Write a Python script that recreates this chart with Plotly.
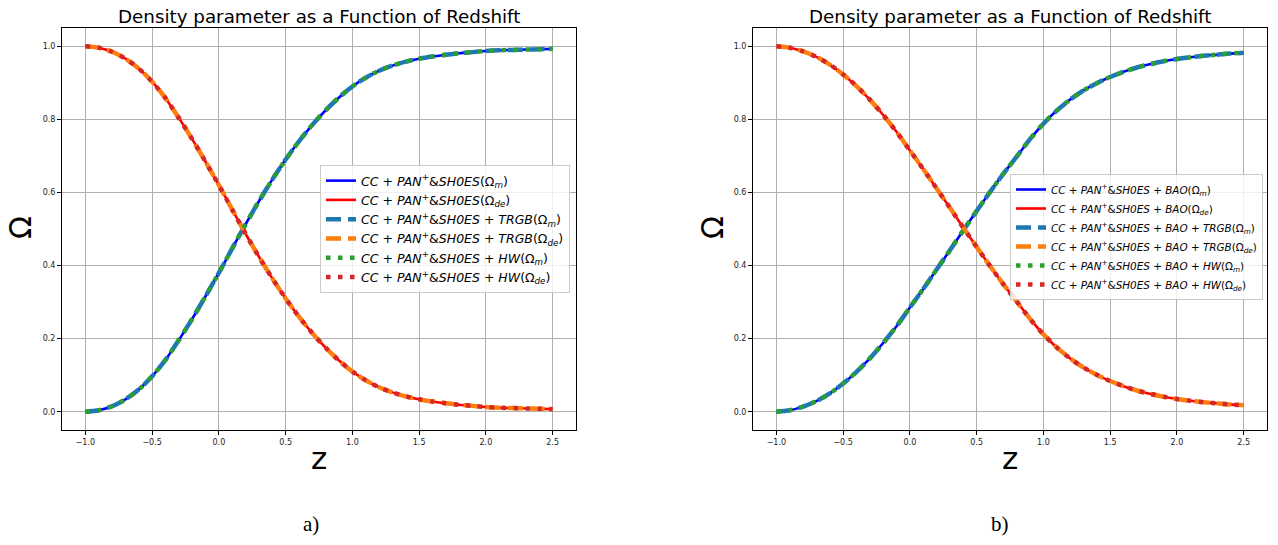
import plotly.graph_objects as go

# ---------------- data ----------------
z = [-1.0, -0.9, -0.8, -0.7, -0.6, -0.5, -0.4, -0.3, -0.2, -0.1,
     0.0, 0.1, 0.2, 0.3, 0.4, 0.5, 0.6, 0.7, 0.8, 0.9,
     1.0, 1.1, 1.2, 1.3, 1.4, 1.5, 1.6, 1.7, 1.8, 1.9,
     2.0, 2.1, 2.2, 2.3, 2.4, 2.5]

# panel a)
omega_m_a = [0.000, 0.004, 0.015, 0.034, 0.061, 0.097, 0.142, 0.196, 0.254, 0.316,
             0.380, 0.447, 0.513, 0.576, 0.635, 0.690, 0.740, 0.785, 0.825, 0.860,
             0.890, 0.914, 0.933, 0.947, 0.958, 0.966, 0.972, 0.977, 0.981, 0.984,
             0.987, 0.989, 0.990, 0.991, 0.992, 0.993]
omega_de_a = [1.000, 0.996, 0.985, 0.966, 0.939, 0.903, 0.858, 0.804, 0.746, 0.684,
              0.620, 0.553, 0.487, 0.424, 0.365, 0.310, 0.260, 0.215, 0.175, 0.140,
              0.110, 0.086, 0.067, 0.053, 0.042, 0.034, 0.028, 0.023, 0.019, 0.016,
              0.013, 0.011, 0.010, 0.009, 0.008, 0.007]

# panel b)
omega_m_b = [0.000, 0.004, 0.014, 0.029, 0.050, 0.077, 0.109, 0.146, 0.188, 0.234,
             0.285, 0.336, 0.389, 0.442, 0.496, 0.549, 0.601, 0.651, 0.698, 0.746,
             0.788, 0.824, 0.854, 0.879, 0.899, 0.916, 0.930, 0.942, 0.951, 0.959,
             0.965, 0.970, 0.974, 0.977, 0.980, 0.982]
omega_de_b = [1.000, 0.996, 0.986, 0.971, 0.950, 0.923, 0.891, 0.854, 0.812, 0.766,
              0.715, 0.664, 0.611, 0.558, 0.504, 0.451, 0.399, 0.349, 0.302, 0.254,
              0.212, 0.176, 0.146, 0.121, 0.101, 0.084, 0.070, 0.058, 0.049, 0.041,
              0.035, 0.030, 0.026, 0.023, 0.020, 0.018]

x_tickvals = [-1.0, -0.5, 0.0, 0.5, 1.0, 1.5, 2.0, 2.5]
x_ticktext = ["\u22121.0", "\u22120.5", "0.0", "0.5", "1.0", "1.5", "2.0", "2.5"]
y_tickvals = [0.0, 0.2, 0.4, 0.6, 0.8, 1.0]
y_ticktext = ["0.0", "0.2", "0.4", "0.6", "0.8", "1.0"]

base = "<i>CC</i> + <i>PAN</i><sup>+</sup>&amp;<i>SH0ES</i>"
labels_a = [
    base + "(\u03a9<sub><i>m</i></sub>)",
    base + "(\u03a9<sub><i>de</i></sub>)",
    base + " + <i>TRGB</i>(\u03a9<sub><i>m</i></sub>)",
    base + " + <i>TRGB</i>(\u03a9<sub><i>de</i></sub>)",
    base + " + <i>HW</i>(\u03a9<sub><i>m</i></sub>)",
    base + " + <i>HW</i>(\u03a9<sub><i>de</i></sub>)",
]
base_b = base + " + <i>BAO</i>"
labels_b = [
    base_b + "(\u03a9<sub><i>m</i></sub>)",
    base_b + "(\u03a9<sub><i>de</i></sub>)",
    base_b + " + <i>TRGB</i>(\u03a9<sub><i>m</i></sub>)",
    base_b + " + <i>TRGB</i>(\u03a9<sub><i>de</i></sub>)",
    base_b + " + <i>HW</i>(\u03a9<sub><i>m</i></sub>)",
    base_b + " + <i>HW</i>(\u03a9<sub><i>de</i></sub>)",
]

styles = [
    dict(color="#0000ff", width=2.6, dash="solid"),
    dict(color="#ff0000", width=2.6, dash="solid"),
    dict(color="#1f77b4", width=4.5, dash="15px,7px"),
    dict(color="#ff7f0e", width=4.5, dash="15px,7px"),
    dict(color="#2ca02c", width=4.5, dash="4.5px,7.5px"),
    dict(color="#d62728", width=4.5, dash="4.5px,7.5px"),
]

fig = go.Figure()

def add_panel(om, ode, labels, xa, ya, legend):
    series = [om, ode, om, ode, om, ode]
    for y, lab, st in zip(series, labels, styles):
        fig.add_trace(go.Scatter(
            x=z, y=y, mode="lines", name=lab,
            line=dict(color=st["color"], width=st["width"], dash=st["dash"], shape="spline",
                      smoothing=0.8),
            xaxis=xa, yaxis=ya, legend=legend, hoverinfo="skip"))

add_panel(omega_m_a, omega_de_a, labels_a, "x", "y", "legend")
add_panel(omega_m_b, omega_de_b, labels_b, "x2", "y2", "legend2")

W, H = 1278, 545
ydom = [1 - 430 / H, 1 - 28 / H]
dom_a = [62 / W, 576 / W]
dom_b = [753 / W, 1267 / W]

axis_common = dict(
    showgrid=True, gridcolor="#b0b0b0", gridwidth=1,
    showline=True, linecolor="black", linewidth=1, mirror=True,
    ticks="outside", ticklen=4, tickcolor="black", tickwidth=1,
    tickfont=dict(family="DejaVu Sans", size=8, color="#222222"),
    zeroline=False,
)

fig.update_layout(
    width=W, height=H,
    margin=dict(l=0, r=0, t=0, b=0),
    paper_bgcolor="white", plot_bgcolor="white",
    font=dict(family="DejaVu Sans", color="black"),
    xaxis=dict(domain=dom_a, anchor="y", range=[-1.175, 2.675],
               tickvals=x_tickvals, ticktext=x_ticktext, **axis_common),
    yaxis=dict(domain=ydom, anchor="x", range=[-0.05, 1.05],
               tickvals=y_tickvals, ticktext=y_ticktext, **axis_common),
    xaxis2=dict(domain=dom_b, anchor="y2", range=[-1.175, 2.675],
                tickvals=x_tickvals, ticktext=x_ticktext, **axis_common),
    yaxis2=dict(domain=ydom, anchor="x2", range=[-0.05, 1.05],
                tickvals=y_tickvals, ticktext=y_ticktext, **axis_common),
    legend=dict(x=570 / W, y=1 - 165 / H, xanchor="right", yanchor="top",
                bgcolor="rgba(255,255,255,0.8)", bordercolor="#cccccc", borderwidth=1,
                font=dict(family="DejaVu Sans", size=12.5, color="black"),
                itemwidth=30),
    legend2=dict(x=1263 / W, y=1 - 174 / H, xanchor="right", yanchor="top",
                 bgcolor="rgba(255,255,255,0.8)", bordercolor="#cccccc", borderwidth=1,
                 font=dict(family="DejaVu Sans", size=10.4, color="black"),
                 itemwidth=30),
    showlegend=True,
)

title = "Density parameter as a Function of Redshift"
ann = []
for cx in [(62 + 576) / 2 / W, (753 + 1267) / 2 / W]:
    ann.append(dict(text=title, x=cx, y=1 - 17 / H, xref="paper", yref="paper",
                    xanchor="center", yanchor="middle", showarrow=False,
                    font=dict(family="DejaVu Sans", size=18.3, color="black")))
    ann.append(dict(text="z", x=cx, y=1 - 458 / H, xref="paper", yref="paper",
                    xanchor="center", yanchor="middle", showarrow=False,
                    font=dict(family="DejaVu Sans", size=31, color="black")))
ann.append(dict(text="a)", x=311 / W, y=1 - 524 / H, xref="paper", yref="paper",
                xanchor="center", yanchor="middle", showarrow=False,
                font=dict(family="Liberation Serif", size=21, color="black")))
ann.append(dict(text="b)", x=1000 / W, y=1 - 524 / H, xref="paper", yref="paper",
                xanchor="center", yanchor="middle", showarrow=False,
                font=dict(family="Liberation Serif", size=21, color="black")))
for ox in [20, 712]:
    ann.append(dict(text="\u03a9", x=ox / W, y=1 - 228 / H, xref="paper", yref="paper",
                    xanchor="center", yanchor="middle", showarrow=False, textangle=-90,
                    font=dict(family="DejaVu Sans", size=30, color="black")))
fig.update_layout(annotations=ann)

fig.write_html("out.html", config={"displayModeBar": False},
               post_script="document.body.style.margin='0px';")
